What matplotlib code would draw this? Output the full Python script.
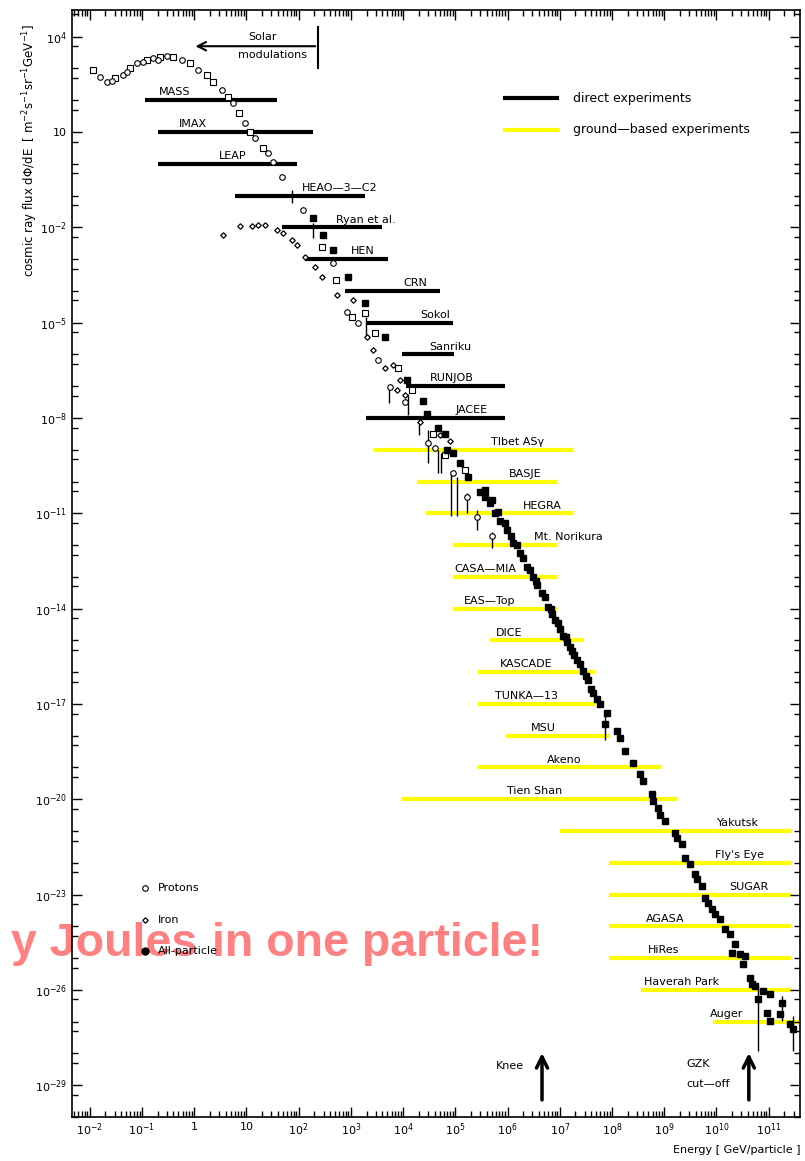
import numpy as np
import matplotlib.pyplot as plt
from matplotlib.ticker import FixedLocator, LogLocator, NullFormatter

# spectrum points, log10(E/GeV) and log10(flux)
prot_logE = [-1.81, -1.67, -1.57, -1.37, -1.28, -1.10, -0.99, -0.79, -0.70, -0.53, -0.24, 0.07, 0.53,
             0.74, 0.97, 1.16, 1.41, 1.51, 1.68, 2.08, 2.66, 2.92, 3.13, 3.52, 3.75, 4.03, 4.48,
             4.61, 4.95, 5.22, 5.41, 5.70]
prot_logF = [2.72, 2.57, 2.60, 2.79, 2.88, 3.17, 3.20, 3.32, 3.26, 3.38, 3.26, 2.95, 2.32,
             1.91, 1.28, 0.80, 0.33, 0.05, -0.42, -1.46, -3.13, -4.67, -5.02, -6.19, -7.04, -7.51, -8.80,
             -8.93, -9.74, -10.50, -11.13, -11.70]

sq_logE = [-1.94, -1.52, -1.23, -0.91, -0.66, -0.41, -0.08, 0.24, 0.36, 0.64, 0.85, 1.07, 1.31,
           2.44, 2.71, 3.02, 3.27, 3.46, 3.90, 4.17, 4.57, 4.80, 5.18]
sq_logF = [2.94, 2.69, 3.01, 3.26, 3.36, 3.36, 3.16, 2.79, 2.57, 2.10, 1.59, 0.99, 0.49,
           -2.63, -3.67, -4.83, -4.71, -5.34, -6.44, -7.13, -8.49, -9.18, -9.65]

iron_logE = [0.55, 0.87, 1.10, 1.22, 1.35, 1.58, 1.70, 1.87, 1.97, 2.12, 2.31, 2.44, 2.73, 3.04,
             3.31, 3.42, 3.65, 3.80, 3.94, 3.88, 4.03, 4.32, 4.70, 4.90]
iron_logF = [-2.25, -1.97, -1.97, -1.94, -1.94, -2.09, -2.19, -2.41, -2.56, -2.94, -3.26, -3.57, -4.14, -4.30,
             -5.46, -5.87, -6.44, -6.34, -6.82, -7.13, -7.29, -8.14, -8.55, -8.74]

all_logE = [2.27, 2.46, 2.66, 2.94, 3.27, 3.65, 4.07, 4.38, 4.46, 4.67, 4.80, 4.84, 4.95, 5.09, 5.24,
            5.47, 5.57, 5.66, 5.76, 5.86, 5.99, 6.10, 6.24, 6.37, 6.49, 6.56, 6.66, 6.77, 6.85, 6.91,
            7.01, 7.06, 7.14, 7.19, 7.27, 7.33, 7.44, 7.54, 7.63, 7.77, 7.90, 7.86, 8.10, 8.15, 8.25,
            8.40, 8.53, 8.59, 8.76, 8.78, 8.88, 8.92, 9.01, 9.21, 9.25, 9.34, 9.40, 9.49, 9.59, 9.63,
            9.72, 9.78, 9.84, 9.92, 9.97, 10.07, 10.16, 10.26, 10.36, 10.30, 10.45, 10.55, 10.51, 10.64,
            10.68, 10.74, 10.80, 10.89, 11.03, 10.97, 11.03, 11.26, 11.22, 11.41, 11.47,
            5.57, 5.70, 5.82, 5.95, 6.07, 6.18, 6.30, 6.43, 6.54, 6.72, 6.83, 6.97, 7.12, 7.24, 7.39,
            7.51, 7.60, 7.71]
all_logF = [-1.72, -2.25, -2.72, -3.57, -4.39, -5.46, -6.82, -7.45, -7.86, -8.30, -8.49, -9.02, -9.09, -9.43, -9.87,
            -10.34, -10.50, -10.69, -11.00, -11.23, -11.54, -11.95, -12.26, -12.70, -13.02, -13.27, -13.52, -13.96, -14.18, -14.37,
            -14.63, -14.85, -15.04, -15.22, -15.45, -15.63, -15.95, -16.26, -16.67, -16.99, -17.30, -17.62, -17.84, -18.06, -18.47,
            -18.85, -19.19, -19.41, -19.82, -20.04, -20.26, -20.51, -20.67, -21.05, -21.21, -21.40, -21.84, -22.03, -22.34, -22.50,
            -22.72, -23.10, -23.28, -23.44, -23.60, -23.76, -24.07, -24.23, -24.55, -24.83, -24.86, -24.92, -25.17, -25.62,
            -25.81, -25.87, -26.28, -26.03, -26.12, -26.72, -26.97, -26.40, -26.75, -27.06, -27.22,
            -10.28, -10.59, -10.97, -11.29, -11.70, -12.01, -12.42, -12.80, -13.12, -13.65, -14.00, -14.44, -14.88, -15.33, -15.74,
            -16.11, -16.52, -16.84]

# error bars (vertical extents)
err_logE = [1.87, 2.28, 3.29, 3.73, 4.09, 4.30, 4.48, 4.67, 4.72, 4.91, 5.03, 5.22, 5.41, 5.70, 7.86, 10.80, 11.47, 11.26]
err_hi = [-0.84, -1.87, -4.83, -7.04, -7.23, -8.07, -8.39, -9.02, -9.11, -9.74, -9.87, -10.37, -10.91, -11.60, -17.37, -25.87, -26.81, -26.18]
err_lo = [-1.24, -2.35, -5.49, -7.54, -7.92, -8.55, -9.43, -9.74, -9.74, -11.07, -11.07, -11.00, -11.54, -12.08, -18.15, -27.91, -27.91, -26.97]

# experiments: energy range (log10 GeV) and flux level (log10)
direct_names = ['MASS', 'IMAX', 'LEAP', 'HEAO—3—C2', 'Ryan et al.', 'HEN', 'CRN', 'Sokol', 'Sanriku', 'RUNJOB', 'JACEE']
direct_lo = [-0.95, -0.70, -0.70, 0.78, 1.68, 2.12, 2.89, 3.29, 3.98, 4.05, 3.29]
direct_hi = [1.58, 2.27, 1.97, 3.27, 3.59, 3.71, 4.70, 4.95, 4.97, 5.95, 5.95]
direct_flux = [2, 1, 0, -1, -2, -3, -4, -5, -6, -7, -8]
direct_lab = [-0.37, -0.03, 0.74, 2.79, 3.29, 3.23, 4.23, 4.61, 4.90, 4.93, 5.32]

ground_names = ['TIbet ASγ', 'BASJE', 'HEGRA', 'Mt. Norikura', 'CASA—MIA', 'EAS—Top', 'DICE', 'KASCADE',
                'TUNKA—13', 'MSU', 'Akeno', 'Tien Shan', 'Yakutsk', "Fly's Eye", 'SUGAR', 'AGASA', 'HiRes',
                'Haverah Park', 'Auger']
ground_lo = [3.44, 4.26, 4.44, 4.95, 4.95, 4.95, 5.66, 5.43, 5.43, 5.97, 5.43, 3.98, 7.00, 7.94, 7.94, 7.94, 7.94, 8.56, 9.93]
ground_hi = [7.25, 6.95, 7.25, 6.95, 6.95, 6.95, 7.44, 7.67, 7.67, 7.96, 8.94, 9.25, 11.43, 11.43, 11.43, 11.43, 11.43, 11.43, 11.6]
ground_flux = [-9, -10, -11, -12, -13, -14, -15, -16, -17, -18, -19, -20, -21, -22, -23, -24, -25, -26, -27]
ground_lab = [6.20, 6.33, 6.66, 7.16, 5.57, 5.66, 6.03, 6.35, 6.37, 6.68, 7.08, 6.52, 10.41, 10.45, 10.62, 9.02, 8.98, 9.34, 10.20]

knee_logE = 6.66
gzk_logE = 10.62

plt.rcParams['font.family'] = ['DejaVu Sans']
fig = plt.figure(figsize=(8.05, 11.61), dpi=100)
ax = fig.add_axes([72 / 805, 44 / 1161, 728 / 805, 1107 / 1161])
ax.set_xscale('log')
ax.set_yscale('log')
ax.set_xlim(10 ** -2.34, 10 ** 11.6)
ax.set_ylim(1e-30, 10 ** 4.84)
ax.patch.set_facecolor('none')

p = lambda a: 10.0 ** np.array(a, dtype=float)

ax.hlines(p(direct_flux), p(direct_lo), p(direct_hi), color='black', lw=3, zorder=2)
ax.hlines(p(ground_flux), p(ground_lo), p(ground_hi), color='#ffff00', lw=3, zorder=1)
for name, x, y in zip(direct_names, direct_lab, direct_flux):
	ax.annotate(name, (10 ** x, 10.0 ** y), xytext=(0, 2), textcoords='offset points',
				ha='center', va='bottom', fontsize=8)
for name, x, y in zip(ground_names, ground_lab, ground_flux):
	ax.annotate(name, (10 ** x, 10.0 ** y), xytext=(0, 2), textcoords='offset points',
				ha='center', va='bottom', fontsize=8)

ax.vlines(p(err_logE), p(err_lo), p(err_hi), color='black', lw=1, zorder=3)
ax.plot(p(sq_logE), p(sq_logF), 's', ms=4, mfc='white', mec='black', mew=0.8, zorder=4)
ax.plot(p(prot_logE), p(prot_logF), 'o', ms=4, mfc='white', mec='black', mew=0.8, zorder=4)
ax.plot(p(iron_logE), p(iron_logF), 'D', ms=2.8, mfc='white', mec='black', mew=0.9, zorder=4)
ax.plot(p(all_logE), p(all_logF), 's', ms=5, color='black', zorder=5)

# solar modulation
ax.plot([10 ** 2.37, 10 ** 2.37], [10 ** 4.30, 10 ** 3.01], color='black', lw=1.5)
ax.annotate('', xy=(10 ** -0.03, 10 ** 3.70), xytext=(10 ** 2.37, 10 ** 3.70),
			arrowprops=dict(arrowstyle='->', lw=1.5, color='black', mutation_scale=15))
ax.text(10 ** 1.31, 10 ** 3.98, 'Solar', ha='center', va='center', fontsize=8)
ax.text(10 ** 1.50, 10 ** 3.42, 'modulations', ha='center', va='center', fontsize=8)

# knee and GZK
for xe in [knee_logE, gzk_logE]:
	ax.annotate('', xy=(10 ** xe, 10 ** -27.9), xytext=(10 ** xe, 10 ** -29.55),
				arrowprops=dict(arrowstyle='->', lw=2.5, color='black', mutation_scale=20))
ax.text(10 ** 6.05, 10 ** -28.39, 'Knee', ha='center', va='center', fontsize=8)
ax.text(10 ** 9.43, 10 ** -28.32, 'GZK', ha='left', va='center', fontsize=8)
ax.text(10 ** 9.43, 10 ** -28.95, 'cut—off', ha='left', va='center', fontsize=8)

# legends
ax.plot([0.595, 0.666], [0.9205, 0.9205], color='black', lw=3, transform=ax.transAxes)
ax.plot([0.595, 0.666], [0.8916, 0.8916], color='#ffff00', lw=3, transform=ax.transAxes)
ax.text(0.688, 0.9205, 'direct experiments', transform=ax.transAxes, va='center', fontsize=9)
ax.text(0.688, 0.8916, 'ground—based experiments', transform=ax.transAxes, va='center', fontsize=9)
ax.plot([0.100], [0.2069], 'o', ms=4, mfc='white', mec='black', mew=0.8, transform=ax.transAxes)
ax.plot([0.100], [0.178], 'D', ms=2.8, mfc='white', mec='black', mew=0.9, transform=ax.transAxes)
ax.plot([0.100], [0.150], 'o', ms=5, color='black', transform=ax.transAxes)
ax.text(0.118, 0.2069, 'Protons', transform=ax.transAxes, va='center', fontsize=8)
ax.text(0.118, 0.178, 'Iron', transform=ax.transAxes, va='center', fontsize=8)
ax.text(0.118, 0.150, 'All-particle', transform=ax.transAxes, va='center', fontsize=8)

# ticks
xt = list(range(-2, 12))
xlab = ['1' if k == 0 else '10' if k == 1 else '$10^{%d}$' % k for k in xt]
ax.set_xticks([10.0 ** k for k in xt])
ax.set_xticklabels(xlab, fontsize=8)
ax.xaxis.set_minor_locator(LogLocator(base=10, subs=np.arange(2, 10), numticks=100))
ax.xaxis.set_minor_formatter(NullFormatter())
yt = list(range(4, -30, -3))
ylab = ['10' if k == 1 else '$10^{%d}$' % k for k in yt]
ax.set_yticks([10.0 ** k for k in yt])
ax.set_yticklabels(ylab, fontsize=8)
ymin = []
for n in range(-30, 6):
	if n not in yt:
		ymin.append(10.0 ** n)
	ymin.append(5 * 10.0 ** (n - 1))
ax.yaxis.set_minor_locator(FixedLocator(ymin))
ax.yaxis.set_minor_formatter(NullFormatter())
ax.tick_params(which='both', direction='in', top=True, right=True)
ax.tick_params(which='major', length=7, width=1)
ax.tick_params(which='minor', length=4, width=1)
for s in ax.spines.values():
	s.set_linewidth(1.2)

fig.text(30 / 805, 1 - 150 / 1161,
		 'cosmic ray flux d$\\Phi$/dE  [ m$^{-2}$s$^{-1}$sr$^{-1}$GeV$^{-1}$]',
		 rotation=90, ha='center', va='center', fontsize=8.5)
fig.text(800 / 805, 1 - 1150 / 1161, 'Energy [ GeV/particle ]', ha='right', va='center', fontsize=8)

# pink caption, drawn behind the axes content
pink = dict(fontsize=33.5, fontweight='bold', color='#ff8080', family=['Liberation Sans', 'DejaVu Sans'],
			va='baseline', ha='right', zorder=-1)
fig.text(197 / 805, 1 - 956 / 1161, 'y Joules', **pink)
fig.text(543 / 805, 1 - 956 / 1161, 'in one particle!', **pink)

fig.savefig('out.png', dpi=100)
